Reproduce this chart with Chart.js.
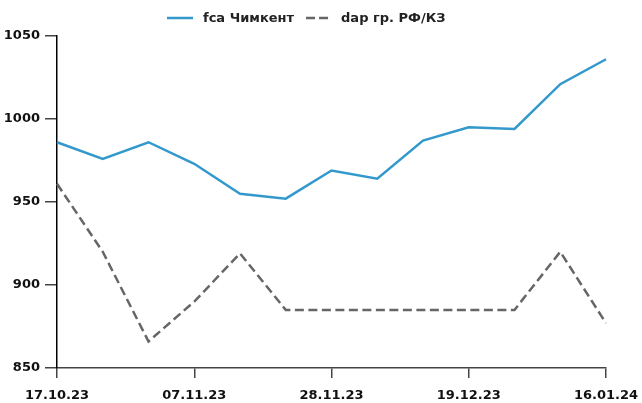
<!DOCTYPE html>
<html>
<head>
<meta charset="utf-8">
<script src="https://cdn.jsdelivr.net/npm/chart.js@4"></script>
<style>
html,body{margin:0;padding:0;background:#fff;}
#wrap{width:642px;height:403px;position:relative;}
</style>
</head>
<body>
<div id="wrap"><canvas id="c" width="642" height="403"></canvas></div>
<script>
const categories = ['17.10.23','24.10.23','31.10.23','07.11.23','14.11.23','21.11.23','28.11.23','05.12.23','12.12.23','19.12.23','26.12.23','09.01.24','16.01.24'];
const fcaShymkent = [986, 976, 986, 973, 955, 952, 969, 964, 987, 995, 994, 1021, 1036];
const dapRfKz = [961, 920, 866, 890, 919, 885, 885, 885, 885, 885, 885, 920, 877];
const seriesNames = ['fca Чимкент', 'dap гр. РФ/КЗ'];
const yTicks = [850, 900, 950, 1000, 1050];

const FONT = 'DejaVu Sans';

// Legend drawn on the chart canvas from the datasets
const legendPlugin = {
  id: 'topLegend',
  afterDraw(chart) {
    const ctx = chart.ctx;
    const y = 18;
    const samples = [26, 22];
    const gapAfterSample = [10, 13];
    const gapBetween = 12;
    let x = 167;
    ctx.save();
    ctx.font = 'bold 13px "' + FONT + '"';
    ctx.textBaseline = 'middle';
    ctx.textAlign = 'left';
    chart.data.datasets.forEach((ds, i) => {
      ctx.beginPath();
      ctx.strokeStyle = ds.borderColor;
      ctx.lineWidth = ds.borderWidth;
      ctx.setLineDash(ds.borderDash ? [9, 4] : []);
      ctx.moveTo(x, y);
      ctx.lineTo(x + samples[i], y);
      ctx.stroke();
      ctx.setLineDash([]);
      x += samples[i] + gapAfterSample[i];
      ctx.fillStyle = '#222';
      ctx.fillText(ds.label, x, y + 1);
      x += ctx.measureText(ds.label).width + gapBetween;
    });
    ctx.restore();
  }
};

new Chart(document.getElementById('c'), {
  type: 'line',
  data: {
    labels: categories,
    datasets: [
      { label: seriesNames[0], data: fcaShymkent, borderColor: '#3399cc', backgroundColor: '#3399cc', borderWidth: 2.5, pointRadius: 0, tension: 0 },
      { label: seriesNames[1], data: dapRfKz, borderColor: '#666666', backgroundColor: '#666666', borderWidth: 2.5, borderDash: [9, 4.5], pointRadius: 0, tension: 0 }
    ]
  },
  plugins: [legendPlugin],
  options: {
    responsive: false,
    animation: false,
    layout: { padding: { left: 0, right: 0, top: 36, bottom: 0 } },
    plugins: {
      legend: { display: false },
      tooltip: { enabled: false }
    },
    scales: {
      x: {
        offset: false,
        afterFit(scale) { scale.height = 35; scale.paddingLeft = 0; scale.paddingRight = 36; },
        grid: { display: true, drawOnChartArea: false, drawTicks: true, tickLength: 10, color: '#444', lineWidth: 1.5 },
        border: { display: true, color: '#444', width: 1.5 },
        ticks: {
          autoSkip: false,
          maxRotation: 0,
          color: '#111',
          font: { family: FONT, size: 13, weight: 'bold' },
          padding: 10,
          callback(v, i) { return i % 3 === 0 ? categories[i] : null; }
        }
      },
      y: {
        min: yTicks[0],
        max: yTicks[yTicks.length - 1],
        afterBuildTicks(scale) { scale.ticks = yTicks.map(v => ({ value: v })); },
        afterFit(scale) { scale.width = 57; scale.paddingTop = 0; scale.paddingBottom = 0; },
        grid: { display: true, drawOnChartArea: false, drawTicks: true, tickLength: 12, color: '#444', lineWidth: 1.5 },
        border: { display: true, color: '#000', width: 1.5 },
        ticks: {
          color: '#111',
          font: { family: FONT, size: 13, weight: 'bold' },
          padding: 5,
          callback(v) { return String(v); }
        }
      }
    }
  }
});
</script>
</body>
</html>
